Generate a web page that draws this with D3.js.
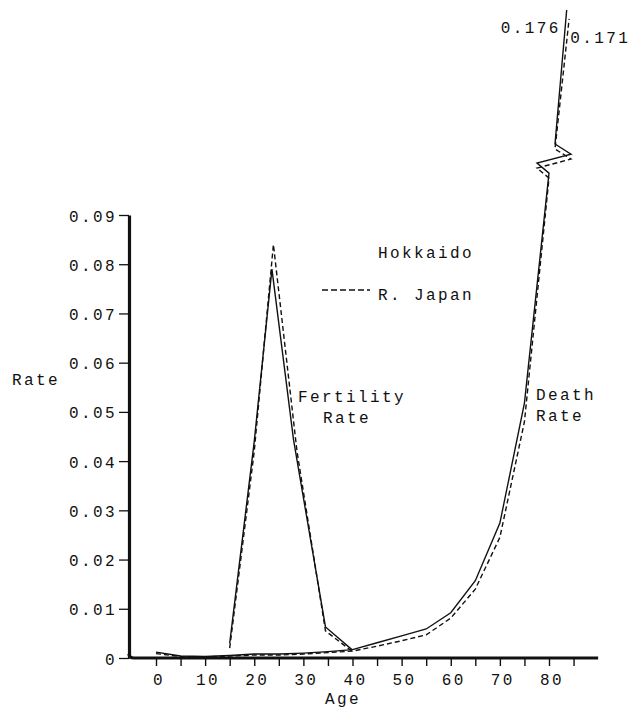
<!DOCTYPE html>
<html>
<head>
<meta charset="utf-8">
<script src="https://cdn.jsdelivr.net/npm/d3@7"></script>
<style>
  body { margin: 0; background: #fff; }
  svg text { font-family: "Liberation Mono", "DejaVu Sans Mono", monospace; font-size: 16px; letter-spacing: 2.4px; fill: #111; }
  .axis text { font-family: "Liberation Mono", monospace; font-size: 16px; }
</style>
</head>
<body>
<div id="chart"></div>
<script>
// ages (x) and rates
var fert_ages = [15, 20, 23.6, 28, 34.5, 40];
var fert_hokkaido = [0.003, 0.044, 0.079, 0.0443, 0.0063, 0.0016];
var fert_ages_jp = [15, 20, 23.9, 28.7, 34.5, 40];
var fert_japan = [0.002, 0.042, 0.084, 0.042, 0.0055, 0.0013];

var death_ages = [0, 5, 10, 15, 20, 25, 30, 35, 40, 45, 50, 55, 60, 65, 70, 75, 80];
var death_hokkaido = [0.0012, 0.0004, 0.0003, 0.0005, 0.0008, 0.0008, 0.001, 0.0013, 0.0017, 0.0031, 0.0045, 0.0059, 0.0092, 0.0157, 0.0274, 0.0518, 0.0985];
var death_japan = [0.0009, 0.0003, 0.0002, 0.0004, 0.0006, 0.0006, 0.0008, 0.0011, 0.0014, 0.0024, 0.0035, 0.0047, 0.0081, 0.0140, 0.0245, 0.0480, 0.0975];
// end of the curves above the axis break
var top_ages = [83.6, 84.1];
var top_values = [0.176, 0.171];
var top_labels = ["0.176", "0.171"];

var x_ticks = d3.range(0, 90, 5);
var y_ticks = [0, 0.01, 0.02, 0.03, 0.04, 0.05, 0.06, 0.07, 0.08, 0.09];

function renderChart(){
    var total_width = 634;
    var total_height = 714;

    var svg = d3.select("#chart").append("svg")
        .attr("width", total_width)
        .attr("height", total_height);

    var x = d3.scaleLinear().domain([0, 80]).range([156, 549]);
    var y = d3.scaleLinear().domain([0, 0.09]).range([658, 215]);
    // compressed scale above the break
    var y_top = d3.scaleLinear().domain([0.1, 0.176]).range([144, 10]);

    // y axis
    var y_axis = svg.append("g")
        .attr("class", "axis")
        .attr("transform", "translate(129,0)")
        .call(d3.axisLeft(y).tickValues(y_ticks).tickSize(10).tickSizeOuter(0).tickPadding(2)
            .tickFormat(function(d){ return d === 0 ? "0" : d3.format(".2f")(d); }));
    y_axis.select(".domain").attr("stroke-width", 3.2).attr("stroke", "#111");
    y_axis.selectAll(".tick line").attr("stroke-width", 1.3).attr("stroke", "#111");
    y_axis.selectAll(".tick text").attr("dy", "0.38em");

    // x axis
    var x_axis = svg.append("g")
        .attr("class", "axis")
        .attr("transform", "translate(0," + y(0) + ")")
        .call(d3.axisBottom(x).tickValues(x_ticks).tickSize(8).tickSizeOuter(0).tickPadding(8)
            .tickFormat(function(d){ return d % 10 === 0 ? d : ""; }));
    x_axis.select(".domain").remove();
    x_axis.selectAll(".tick line").attr("stroke-width", 1.4).attr("stroke", "#111");
    x_axis.selectAll(".tick text").attr("dx", "0.15em");

    svg.append("path")
        .attr("d", "M" + (x(-5.5)) + "," + (y(0) - 4) + "Q" + x(-5.5) + "," + y(0) + " " + (x(-4.5)) + "," + y(0) + "L" + x(90) + "," + y(0))
        .attr("fill", "none")
        .attr("stroke", "#111")
        .attr("stroke-width", 3.2);

    var line = d3.line().x(function(d){ return x(d[0]); }).y(function(d){ return y(d[1]); });

    function drawLine(ages, vals, dashed){
        svg.append("path")
            .datum(ages.map(function(a, i){ return [a, vals[i]]; }))
            .attr("d", line)
            .attr("fill", "none")
            .attr("stroke", "#111")
            .attr("stroke-width", 1.4)
            .attr("stroke-dasharray", dashed ? "5,3" : null);
    }

    drawLine(fert_ages, fert_hokkaido, false);
    drawLine(fert_ages_jp, fert_japan, true);

    // death rate: lower part, zigzag break, then the compressed upper part
    function drawDeath(vals, k, dashed){
        var pts = death_ages.map(function(a, i){ return [x(a), y(vals[i])]; });
        var last = pts[pts.length - 1];
        var z1 = [last[0] - 12, last[1] - 10];
        var z2 = [z1[0] + 34, z1[1] - 9];
        var z3 = [z2[0] - 16, y_top(0.1) + (last[1] - y(0.0985))];
        pts.push(z1, z2, z3, [x(top_ages[k]), y_top(top_values[k])]);
        svg.append("path")
            .attr("d", d3.line()(pts))
            .attr("fill", "none")
            .attr("stroke", "#111")
            .attr("stroke-width", 1.4)
            .attr("stroke-dasharray", dashed ? "5,3" : null);
    }
    drawDeath(death_hokkaido, 0, false);
    drawDeath(death_japan, 1, true);

    // values at the top of the death curves
    svg.append("text").attr("x", x(top_ages[0]) - 6).attr("y", y_top(top_values[0]) + 23)
        .attr("text-anchor", "end").text(top_labels[0]);
    svg.append("text").attr("x", x(top_ages[1]) + 1).attr("y", y_top(top_values[1]) + 24)
        .text(top_labels[1]);

    // legend
    svg.append("text").attr("x", 378).attr("y", 258).text("Hokkaido");
    svg.append("line").attr("x1", 322).attr("x2", 370).attr("y1", 290).attr("y2", 290)
        .attr("stroke", "#111").attr("stroke-width", 1.4).attr("stroke-dasharray", "6,3");
    svg.append("text").attr("x", 378).attr("y", 300).text("R. Japan");

    // curve labels
    svg.append("text").attr("x", 298).attr("y", 402).text("Fertility");
    svg.append("text").attr("x", 323).attr("y", 423).text("Rate");
    svg.append("text").attr("x", 536).attr("y", 400).text("Death");
    svg.append("text").attr("x", 536).attr("y", 421).text("Rate");

    // axis titles
    svg.append("text").attr("x", 12).attr("y", 385).text("Rate");
    svg.append("text").attr("x", 343).attr("y", 704).attr("text-anchor", "middle").text("Age");
}

renderChart();
</script>
</body>
</html>
